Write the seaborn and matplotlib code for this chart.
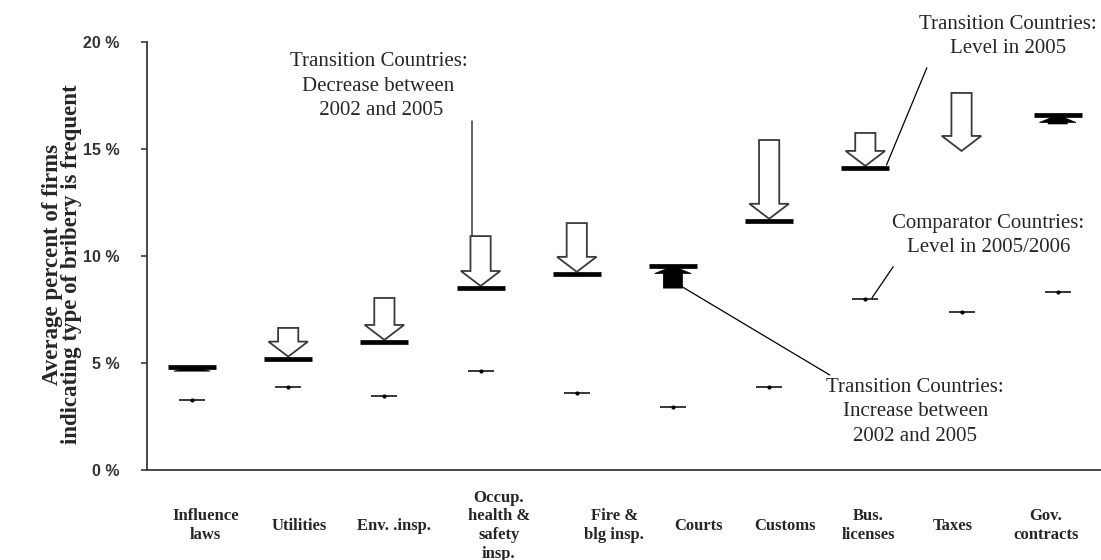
import numpy as np
import pandas as pd
import matplotlib
matplotlib.use("Agg")
import matplotlib.pyplot as plt
from matplotlib.patches import FancyArrow
import seaborn as sns

# ---------------- data (percent of firms) ----------------
categories = ["Influence\nlaws", "Utilities", "Env. .insp.", "Occup.\nhealth &\nsafety\ninsp.",
              "Fire &\nblg insp.", "Courts", "Customs", "Bus.\nlicenses", "Taxes", "Gov.\ncontracts"]
transition_2002 = [4.62, 6.64, 8.04, 10.93, 11.54, 8.50, 15.42, 15.75, 17.62, 16.17]
transition_2005 = [4.80, 5.20, 5.98, 8.50, 9.16, 9.53, 11.64, 14.11, 14.81, 16.59]
comparator_2005 = [3.27, 3.88, 3.46, 4.63, 3.60, 2.94, 3.88, 8.00, 7.38, 8.32]
# taxes has no level bar in the original figure
level_bar_shown = [True, True, True, True, True, True, True, True, False, True]

ytick_vals = [0, 5, 10, 15, 20]
ytick_labels = ["0 %", "5 %", "10 %", "15 %", "20 %"]

# category labels sit a bit off their marks in the original (fraction of a category step)
label_shift = [0.14, 0.11, 0.10, 0.19, 0.39, 0.27, 0.16, 0.03, -0.09, -0.12]

df = pd.DataFrame({"cat": categories, "t02": transition_2002, "t05": transition_2005,
                   "comp": comparator_2005, "bar": level_bar_shown})
df["x"] = np.arange(len(df))

sns.set_style("white")
plt.rcParams["font.family"] = ["Liberation Serif", "DejaVu Serif"]

fig = plt.figure(figsize=(11.01, 5.6), dpi=100)
ax = fig.add_axes([0.1335, 0.1607, 0.8665, 0.7643])

ink = "#3a3a3a"

# change arrows: hollow for decrease, black for increase
for _, r in df.iterrows():
    dy = r.t05 - r.t02
    if dy < 0:
        arr = FancyArrow(r.x, r.t02, 0, dy + 0.1, width=0.21, head_width=0.41, head_length=0.7,
                         length_includes_head=True, fc="white", ec=ink, lw=1.3, zorder=3)
    else:
        arr = FancyArrow(r.x, r.t02, 0, dy, width=0.2, head_width=0.38, head_length=min(0.35, dy),
                         length_includes_head=True, fc="black", ec="black", lw=0.5, zorder=3)
    ax.add_patch(arr)

# transition countries level in 2005
lv = df[df.bar]
ax.hlines(lv.t05, lv.x - 0.25, lv.x + 0.25, color="black", lw=3.4, zorder=4)

# comparator countries level
sns.scatterplot(data=df, x="x", y="comp", marker="_", s=19 ** 2, color="black",
                linewidth=1.1, ax=ax, zorder=4, legend=False)
sns.scatterplot(data=df, x="x", y="comp", marker="o", s=9, color="black",
                linewidth=0, ax=ax, zorder=5, legend=False)

ax.set_xlim(-0.468, 9.45)
ax.set_ylim(0, 20)
sns.despine(ax=ax)
for s in ["left", "bottom"]:
    ax.spines[s].set_color(ink)
    ax.spines[s].set_linewidth(1.3)

ax.set_xticks(df.x + np.array(label_shift))
ax.set_xticklabels(categories, fontweight="bold", fontsize=12, linespacing=1.22)
for lab in ax.get_xticklabels():
    lab.set_va("center")
ax.tick_params(axis="x", length=0, pad=40)
ax.set_xlabel("")

ax.set_yticks(ytick_vals)
ax.set_yticklabels(ytick_labels, fontweight="bold", fontsize=11.5, color="#333333",
                   family=["Liberation Sans Narrow", "Liberation Sans"])
ax.tick_params(axis="y", length=4, width=1.2, color=ink, pad=16, left=True)

ax.set_ylabel("Average percent of firms\nindicating type of bribery is frequent",
              fontweight="bold", fontsize=16.5, linespacing=0.9)
ax.yaxis.set_label_coords(-0.068, 0.481)

# callouts
tk = dict(ha="center", va="center", fontsize=15, linespacing=1.38, zorder=6)
ax.text(1.94, 17.94, "Transition Countries:\nDecrease between\n 2002 and 2005", **tk)
ax.plot([2.91, 2.91], [16.3, 9.9], color=ink, lw=1.1, zorder=2)

ax.text(8.48, 20.25, "Transition Countries:\nLevel in 2005", clip_on=False, **tk)
ax.plot([7.64, 7.22], [18.8, 14.25], color="black", lw=0.9)

ax.text(8.28, 10.95, "Comparator Countries:\nLevel in 2005/2006", **tk)
ax.plot([7.29, 7.07], [9.5, 8.05], color="black", lw=0.9)

ax.text(7.52, 2.72, "Transition Countries:\nIncrease between\n2002 and 2005", **tk)
ax.plot([5.1, 6.63], [8.55, 4.44], color="black", lw=0.9)

fig.savefig("out.png", dpi=100)
